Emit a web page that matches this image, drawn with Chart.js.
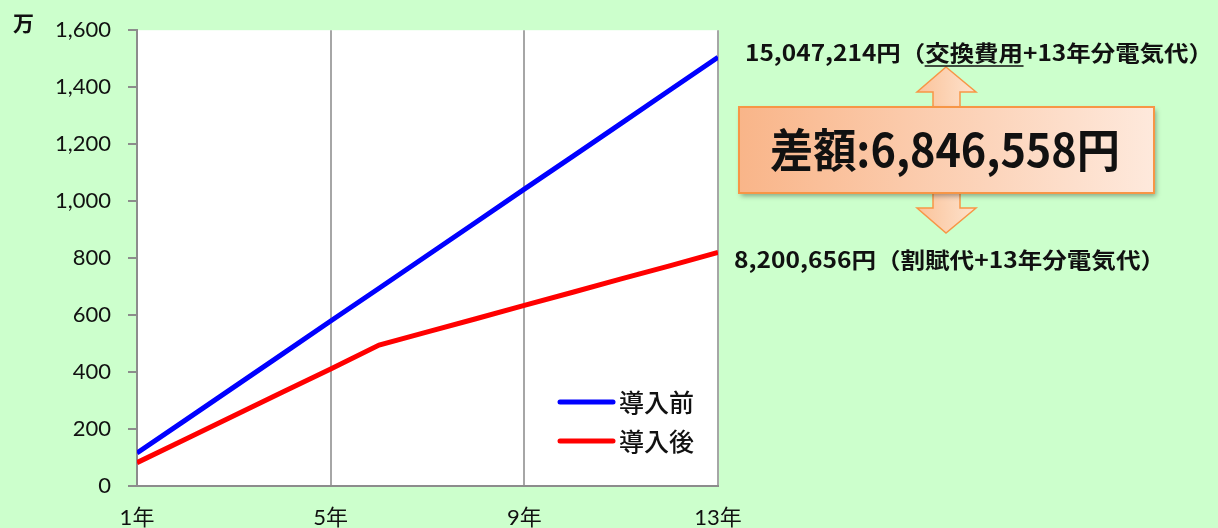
<!DOCTYPE html>
<html>
<head>
<meta charset="utf-8">
<script src="https://cdn.jsdelivr.net/npm/chart.js@4/dist/chart.umd.min.js"></script>
<style>
  html, body { margin: 0; padding: 0; background: #ccffcc; }
  #wrap { width: 1218px; height: 528px; position: relative; }
</style>
</head>
<body>
<div id="wrap"><canvas id="c" width="1218" height="528"></canvas></div>
<script>
// values (unit: 万円)
var years = [1, 2, 3, 4, 5, 6, 7, 8, 9, 10, 11, 12, 13];
var xTicks = [1, 5, 9, 13];
var before = [116, 231, 347, 463, 579, 694, 810, 926, 1042, 1157, 1273, 1389, 1505];
var after = [82, 164, 247, 329, 411, 495, 541, 587, 634, 680, 727, 773, 820];
var seriesNames = ['導入前', '導入後'];
var topNote = '15,047,214円（交換費用+13年分電気代）';
var underlined = '交換費用';
var bottomNote = '8,200,656円（割賦代+13年分電気代）';
var diffNote = '差額:6,846,558円';

var jp = "'Noto Sans CJK JP', sans-serif";
var num = "Lato, 'Noto Sans CJK JP', sans-serif";

// squeeze text horizontally into a given width, returns the x scale used
function fitText(ctx, txt, x, y, w, font) {
  ctx.font = font;
  var m = ctx.measureText(txt).width;
  ctx.save();
  ctx.translate(x, y);
  ctx.scale(w / m, 1);
  ctx.textAlign = 'left';
  ctx.textBaseline = 'middle';
  ctx.fillText(txt, 0, 0);
  ctx.restore();
  return w / m;
}

var overlay = {
  id: 'overlay',
  beforeDraw: function(chart) {
    var a = chart.chartArea, ctx = chart.ctx;
    ctx.save();
    ctx.fillStyle = '#ffffff';
    ctx.fillRect(a.left, a.top, a.right - a.left, a.bottom - a.top);
    ctx.restore();
  },
  afterDraw: function(chart) {
    var ctx = chart.ctx;
    ctx.save();
    // unit
    ctx.fillStyle = '#111';
    ctx.font = 'bold 21px ' + jp;
    ctx.textAlign = 'left';
    ctx.textBaseline = 'middle';
    ctx.fillText('万', 13, 23);

    // legend
    var colors = ['#0000ff', '#ff0000'];
    var ly = [402, 441];
    for (var i = 0; i < 2; i++) {
      ctx.strokeStyle = colors[i];
      ctx.lineWidth = 5;
      ctx.lineCap = 'round';
      ctx.beginPath();
      ctx.moveTo(560, ly[i]);
      ctx.lineTo(613, ly[i]);
      ctx.stroke();
      ctx.fillStyle = '#111';
      ctx.font = '500 25px ' + jp;
      ctx.textBaseline = 'middle';
      ctx.fillText(seriesNames[i], 619, ly[i]);
    }

    // double arrow
    var g = ctx.createLinearGradient(917, 0, 976, 0);
    g.addColorStop(0, '#fbc39a');
    g.addColorStop(1, '#fde2cd');
    ctx.beginPath();
    ctx.moveTo(946, 67);
    ctx.lineTo(976, 92); ctx.lineTo(960, 92); ctx.lineTo(960, 208);
    ctx.lineTo(976, 208); ctx.lineTo(946, 233); ctx.lineTo(917, 208);
    ctx.lineTo(933, 208); ctx.lineTo(933, 92); ctx.lineTo(917, 92);
    ctx.closePath();
    ctx.fillStyle = g;
    ctx.fill();
    ctx.strokeStyle = '#f79646';
    ctx.lineWidth = 1.5;
    ctx.stroke();

    // box
    var bg = ctx.createLinearGradient(739, 0, 1154, 0);
    bg.addColorStop(0, '#f9b589');
    bg.addColorStop(1, '#fee9dc');
    ctx.save();
    ctx.shadowColor = 'rgba(0,0,0,0.35)';
    ctx.shadowBlur = 5;
    ctx.shadowOffsetX = 2;
    ctx.shadowOffsetY = 3;
    ctx.fillStyle = bg;
    ctx.fillRect(739, 107, 415, 86);
    ctx.restore();
    ctx.strokeStyle = '#f79646';
    ctx.lineWidth = 2;
    ctx.strokeRect(739, 107, 415, 86);

    // notes
    ctx.fillStyle = '#111';
    fitText(ctx, diffNote, 770, 150, 350, 'bold 46px ' + jp);
    var topFont = 'bold 22px ' + jp;
    var k = fitText(ctx, topNote, 745, 53, 468, topFont);
    fitText(ctx, bottomNote, 734, 260, 431, 'bold 22px ' + jp);
    // underline under 交換費用
    ctx.font = topFont;
    var start = topNote.indexOf(underlined);
    var u0 = 745 + ctx.measureText(topNote.slice(0, start)).width * k;
    var u1 = 745 + ctx.measureText(topNote.slice(0, start + underlined.length)).width * k;
    ctx.strokeStyle = '#111';
    ctx.lineWidth = 1.5;
    ctx.beginPath();
    ctx.moveTo(u0, 66);
    ctx.lineTo(u1, 66);
    ctx.stroke();
    ctx.restore();
  }
};

var ctx = document.getElementById('c').getContext('2d');
var chart = new Chart(ctx, {
  type: 'line',
  data: {
    datasets: [{
      label: seriesNames[0],
      data: years.map(function(y, i) { return { x: y, y: before[i] }; }),
      borderColor: '#0000ff',
      borderWidth: 5,
      pointRadius: 0,
      tension: 0
    }, {
      label: seriesNames[1],
      data: years.map(function(y, i) { return { x: y, y: after[i] }; }),
      borderColor: '#ff0000',
      borderWidth: 5,
      pointRadius: 0,
      tension: 0
    }]
  },
  options: {
    responsive: false,
    animation: false,
    layout: { padding: { left: 0, right: 500, top: 30, bottom: 0 } },
    plugins: { legend: { display: false }, tooltip: { enabled: false } },
    scales: {
      x: {
        type: 'linear',
        min: 1,
        max: 13,
        afterBuildTicks: function(s) { s.ticks = xTicks.map(function(v) { return { value: v }; }); },
        afterFit: function(s) { s.height = 42; },
        border: { color: '#8c8c8c', width: 2 },
        grid: {
          drawTicks: false,
          lineWidth: 2,
          color: function(c) { return c.tick && c.tick.value === 1 ? 'rgba(0,0,0,0)' : '#a6a6a6'; }
        },
        ticks: {
          padding: 19,
          maxRotation: 0,
          color: '#111',
          font: { family: num, size: 22 },
          callback: function(v) { return v + '年'; }
        }
      },
      y: {
        min: 0,
        max: 1600,
        afterFit: function(s) { s.width = 137; },
        border: { color: '#8c8c8c', width: 2 },
        grid: { drawOnChartArea: false, drawTicks: true, tickLength: 9, color: '#8c8c8c', lineWidth: 2 },
        ticks: {
          stepSize: 200,
          padding: 17,
          color: '#111',
          font: { family: num, size: 22 },
          callback: function(v) { return v.toLocaleString('en-US'); }
        }
      }
    }
  },
  plugins: [overlay]
});
</script>
</body>
</html>
